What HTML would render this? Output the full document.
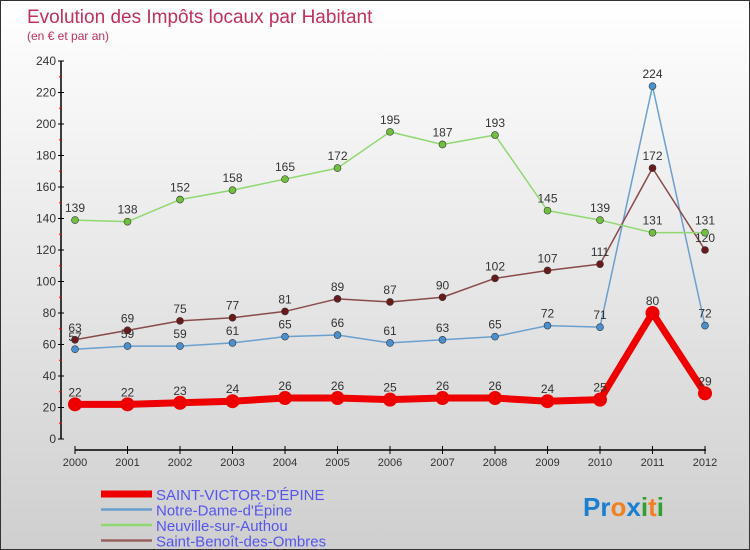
<!DOCTYPE html>
<html><head><meta charset="utf-8"><style>
html,body{margin:0;padding:0}
body{width:750px;height:550px;overflow:hidden;font-family:"Liberation Sans",sans-serif}
#wrap{position:relative;width:748px;height:548px;border:1px solid #333;background:linear-gradient(#ffffff,#cfcfcf)}
</style></head><body>
<div id="wrap">
<svg id="chart" width="748" height="548" style="position:absolute;left:0;top:0">
<text x="26" y="22" font-size="19" fill="#c0305a">Evolution des Impôts locaux par Habitant</text>
<text x="26" y="39" font-size="12" fill="#c0305a">(en € et par an)</text>
<g id="axes"></g>
<g id="series"></g>
<g id="legend"></g>
<text x="582" y="515" font-size="26" font-weight="bold"><tspan fill="#1a7fd0">Pr</tspan><tspan fill="#f08020">o</tspan><tspan fill="#1a7fd0">x</tspan><tspan fill="#30a030">i</tspan><tspan fill="#f08020">t</tspan><tspan fill="#30a030">i</tspan></text>
</svg>
</div>
<script>
const years=["2000","2001","2002","2003","2004","2005","2006","2007","2008","2009","2010","2011","2012"];
const yTicks=[0,20,40,60,80,100,120,140,160,180,200,220,240];
const victor=[22,22,23,24,26,26,25,26,26,24,25,80,29];
const notre=[57,59,59,61,65,66,61,63,65,72,71,224,72];
const neuville=[139,138,152,158,165,172,195,187,193,145,139,131,131];
const benoit=[63,69,75,77,81,89,87,90,102,107,111,172,120];
const NS="http://www.w3.org/2000/svg";
function X(i){return 74+i*(704-74)/12;}
function Y(v){return 438-v*(378/240);}
function mk(t,a,p){const e=document.createElementNS(NS,t);for(const k in a)e.setAttribute(k,a[k]);p.appendChild(e);return e;}
const ax=document.getElementById('axes');
let l=mk('line',{x1:60,y1:Y(240),x2:60,y2:Y(0),stroke:'#000','stroke-width':1.5},ax);


yTicks.forEach(v=>{
  mk('line',{x1:57,y1:Y(v),x2:63,y2:Y(v),stroke:'#000'},ax);
  if(v<240)mk('line',{x1:58,y1:Y(v+10),x2:61,y2:Y(v+10),stroke:'#f00'},ax);
  const t=mk('text',{x:55,y:Y(v)+4,'font-size':12,'text-anchor':'end',fill:'#333'},ax);
  t.textContent=v;
  
  
});
l=mk('line',{x1:74,y1:449,x2:705,y2:449,stroke:'#000','stroke-width':1.5},ax);


years.forEach((y,i)=>{
  mk('line',{x1:X(i),y1:445,x2:X(i),y2:453,stroke:'#000'},ax);
  const t=mk('text',{x:X(i),y:465,'font-size':11,'text-anchor':'middle',fill:'#333'},ax);
  t.textContent=y;
  
  
});
const sg=document.getElementById('series');
function series(vals,color,dot,w,r,name){
  const g=mk('g',{},sg);
  
  
  const p=mk('polyline',{points:vals.map((v,i)=>X(i)+','+Y(v)).join(' '),fill:'none',stroke:color,'stroke-width':w,'stroke-linejoin':'round'},g);
  
  
  vals.forEach((v,i)=>{
    const c=mk('circle',{cx:X(i),cy:Y(v),r:r,fill:dot,stroke:'#333','stroke-width':r>5?0:0.6},g);
    
    
    const t=mk('text',{x:X(i),y:Y(v)-8,'font-size':12,'text-anchor':'middle',fill:'#333'},g);
    t.textContent=v;
    
    
  });
}
series(notre,'#6aa0d0','#4a90d0',1.5,3.5,'notre-dame-series');
series(benoit,'#8a4a4a','#6a1a1a',1.5,3.5,'saint-benoit-series');
series(neuville,'#90d870','#70c040',1.5,3.5,'neuville-series');
series(victor,'#ee0000','#ee0000',7,7,'saint-victor-series');
const lg=document.getElementById('legend');
const leg=[["SAINT-VICTOR-D'ÉPINE",'#ee0000',7],["Notre-Dame-d'Épine",'#6aa0d0',2.5],["Neuville-sur-Authou",'#90d870',2.5],["Saint-Benoît-des-Ombres",'#9a6060',2.5]];
leg.forEach((e,i)=>{
  const y=493+i*15.5;
  const ln=mk('line',{x1:100,y1:y,x2:151,y2:y,stroke:e[1],'stroke-width':e[2]},lg);
  
  
  const t=mk('text',{x:155,y:y+6,'font-size':15,fill:'#5555ee'},lg);
  t.textContent=e[0];
  
  
});
</script>
</body></html>
